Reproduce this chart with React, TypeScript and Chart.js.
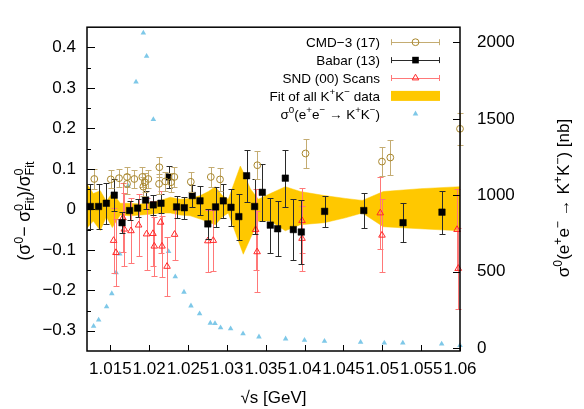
import React, { useEffect, useRef } from 'react';
import { Chart, registerables } from 'chart.js';

Chart.register(...registerables);

const FONT = "'Liberation Sans', Arial, Helvetica, sans-serif";

// ---- axes ----
const X_MIN = 1.012;
const X_MAX = 1.06;
const X_TICKS = [1.015, 1.02, 1.025, 1.03, 1.035, 1.04, 1.045, 1.05, 1.055, 1.06];
const X_TICK_LABELS = ['1.015', '1.02', '1.025', '1.03', '1.035', '1.04', '1.045', '1.05', '1.055', '1.06'];
const Y_MIN = -0.35;
const Y_MAX = 0.45;
const Y_TICKS = [-0.3, -0.2, -0.1, 0, 0.1, 0.2, 0.3, 0.4];
const Y_TICK_LABELS = ['\u22120.3', '\u22120.2', '\u22120.1', '0', '0.1', '0.2', '0.3', '0.4'];
const Y_MINOR_TICKS = [-0.25, -0.15, -0.05, 0.05, 0.15, 0.25, 0.35];
const Y2_MIN = -20;
const Y2_MAX = 2100;
const Y2_TICKS = [0, 500, 1000, 1500, 2000];
const Y2_TICK_LABELS = ['0', '500', '1000', '1500', '2000'];

// ---- CMD-3 (2017) ----
const CMD3_X = [1.01294, 1.01506, 1.01612, 1.01715, 1.01715, 1.01809, 1.01912, 1.01925, 1.01944, 1.01989, 1.02127, 1.02131, 1.02208, 1.02281, 1.02324, 1.02536, 1.02793, 1.02912, 1.03392, 1.04012, 1.04996, 1.05103, 1.06];
const CMD3_Y = [0.075, 0.074, 0.077, 0.080, 0.063, 0.075, 0.080, 0.056, 0.067, 0.075, 0.063, 0.104, 0.069, 0.067, 0.080, 0.068, 0.080, 0.074, 0.109, 0.138, 0.118, 0.128, 0.199];
const CMD3_ERR = [0.024, 0.022, 0.022, 0.024, 0.024, 0.022, 0.024, 0.024, 0.024, 0.022, 0.024, 0.025, 0.024, 0.024, 0.024, 0.024, 0.024, 0.029, 0.035, 0.037, 0.035, 0.043, 0.04];

// ---- Babar (2013) ----
const BABAR_X = [1.01243, 1.01349, 1.01449, 1.01551, 1.01651, 1.01748, 1.01851, 1.01954, 1.02053, 1.02152, 1.0225, 1.02353, 1.02452, 1.02555, 1.02654, 1.02755, 1.02855, 1.02954, 1.03053, 1.03154, 1.03254, 1.03357, 1.03456, 1.03559, 1.03653, 1.03752, 1.03855, 1.03958, 1.04258, 1.04762, 1.05267, 1.05768];
const BABAR_Y = [0.007, 0.007, 0.015, 0.035, -0.033, -0.003, 0.003, 0.023, 0.011, 0.015, 0.080, 0.006, 0.004, 0.034, 0.021, -0.036, 0.006, 0.021, 0.005, -0.018, 0.083, 0.007, 0.042, -0.039, -0.048, 0.077, -0.050, -0.056, -0.005, -0.003, -0.033, -0.007];
const BABAR_ERR = [0.055, 0.055, 0.05, 0.04, 0.026, 0.023, 0.022, 0.022, 0.024, 0.024, 0.028, 0.027, 0.027, 0.027, 0.036, 0.038, 0.05, 0.042, 0.046, 0.057, 0.064, 0.068, 0.07, 0.068, 0.068, 0.07, 0.075, 0.078, 0.039, 0.043, 0.048, 0.053];

// ---- SND (2000) scans ----
const SND_X = [1.01542, 1.01573, 1.01663, 1.0168, 1.01766, 1.01864, 1.01967, 1.02049, 1.02066, 1.02147, 1.02165, 1.0223, 1.02327, 1.02755, 1.02825, 1.0337, 1.03389, 1.03967, 1.03967, 1.04974, 1.04996, 1.05962, 1.05978];
const SND_Y = [-0.077, -0.107, -0.021, -0.049, -0.053, -0.039, -0.061, -0.060, -0.091, -0.032, -0.091, -0.141, -0.062, -0.078, -0.077, -0.050, -0.105, -0.028, -0.072, -0.009, -0.064, -0.050, -0.146];
const SND_ERR = [0.08, 0.082, 0.085, 0.09, 0.08, 0.077, 0.088, 0.08, 0.073, 0.077, 0.075, 0.073, 0.064, 0.077, 0.075, 0.1, 0.1, 0.08, 0.08, 0.09, 0.09, 0.1, 0.1];

// ---- fit uncertainty band ----
const BAND_X = [1.012, 1.01281, 1.01371, 1.01449, 1.01526, 1.01629, 1.01757, 1.01886, 1.02015, 1.02143, 1.02272, 1.02401, 1.02529, 1.02658, 1.02761, 1.02851, 1.02941, 1.03018, 1.03173, 1.03211, 1.03302, 1.03405, 1.03559, 1.03752, 1.03945, 1.04254, 1.04524, 1.04743, 1.05013, 1.05489, 1.06];
const BAND_HI = [0.063, 0.039, 0.046, 0.020, 0.041, 0.015, 0.015, 0.013, 0.017, 0.022, 0.030, 0.025, 0.027, 0.034, 0.044, 0.056, 0.034, 0.025, 0.107, 0.092, 0.051, 0.025, 0.039, 0.056, 0.044, 0.034, 0.027, 0.022, 0.044, 0.051, 0.056];
const BAND_LO = [-0.046, -0.029, -0.052, -0.019, -0.045, -0.014, -0.016, -0.014, -0.012, -0.009, -0.009, -0.014, -0.016, -0.024, -0.031, -0.038, -0.019, -0.009, -0.091, -0.111, -0.072, -0.029, -0.029, -0.053, -0.038, -0.033, -0.021, -0.009, -0.043, -0.048, -0.053];

// ---- bare cross section sigma0(e+e- -> K+K-) [nb] ----
const SIGMA_X = [1.01285, 1.0135, 1.01452, 1.01519, 1.01575, 1.01622, 1.01728, 1.01831, 1.01925, 1.01967, 1.02054, 1.0225, 1.02336, 1.02448, 1.02538, 1.02649, 1.02787, 1.02847, 1.02919, 1.03048, 1.03208, 1.03413, 1.03756, 1.03999, 1.04256, 1.04721, 1.05026, 1.05264, 1.05764, 1.06];
const SIGMA_Y = [142, 184, 270, 356, 493, 616, 1061, 1742, 2062, 1910, 1496, 632, 467, 366, 276, 225, 163, 160, 133, 126, 94, 73, 60, 51, 44, 38, 33, 33, 26, 17];

// ---- colours ----
const CMD3_COLOR = '#a8862c';
const CMD3_BAR = '#c4ac72';
const BABAR_COLOR = '#000000';
const BABAR_BAR = '#2a2a2a';
const SND_COLOR = '#ff2a2a';
const SND_BAR = '#ff7878';
const BAND_COLOR = '#ffc800';
const SIGMA_COLOR = '#7ec8e8';

const pts = (xs: number[], ys: number[]) => xs.map((x, i) => ({ x, y: ys[i] }));

type Seg = { t: string; k?: 'sup' | 'sub'; sub?: string };

function segWidth(ctx: CanvasRenderingContext2D, s: Seg, size: number) {
  if (!s.k) {
    ctx.font = `${size}px ${FONT}`;
    return ctx.measureText(s.t).width;
  }
  ctx.font = `${size * 0.72}px ${FONT}`;
  const w = ctx.measureText(s.t).width;
  return s.sub ? Math.max(w, ctx.measureText(s.sub).width) : w;
}

function drawRich(ctx: CanvasRenderingContext2D, segs: Seg[], x: number, y: number, size: number, align: 'left' | 'right' | 'center', color = '#000') {
  const widths = segs.map((s) => segWidth(ctx, s, size));
  const total = widths.reduce((a, b) => a + b, 0);
  let cx = align === 'left' ? x : align === 'right' ? x - total : x - total / 2;
  ctx.save();
  ctx.fillStyle = color;
  ctx.textAlign = 'left';
  ctx.textBaseline = 'alphabetic';
  segs.forEach((s, i) => {
    if (!s.k) {
      ctx.font = `${size}px ${FONT}`;
      ctx.fillText(s.t, cx, y);
    } else {
      ctx.font = `${size * 0.72}px ${FONT}`;
      if (s.k === 'sup') ctx.fillText(s.t, cx, y - size * 0.42);
      else ctx.fillText(s.t, cx, y + size * 0.22);
      if (s.sub) ctx.fillText(s.sub, cx, y + size * 0.24);
    }
    cx += widths[i];
  });
  ctx.restore();
}

const KK: Seg[] = [{ t: 'K' }, { t: '+', k: 'sup' }, { t: 'K' }, { t: '\u2212', k: 'sup' }];
const SIGMA_LABEL: Seg[] = [{ t: '\u03c3' }, { t: '0', k: 'sup' }, { t: '(e' }, { t: '+', k: 'sup' }, { t: 'e' }, { t: '\u2212', k: 'sup' }, { t: ' \u2192 ' }, ...KK, { t: ')' }];
const FIT_LABEL: Seg[] = [{ t: 'Fit of all ' }, ...KK, { t: ' data' }];
const Y_TITLE: Seg[] = [{ t: '(\u03c3' }, { t: '0', k: 'sup' }, { t: '\u2212 \u03c3' }, { t: '0', k: 'sup', sub: 'Fit' }, { t: ')/\u03c3' }, { t: '0', k: 'sup', sub: 'Fit' }];
const Y2_TITLE: Seg[] = [...SIGMA_LABEL, { t: ' [nb]' }];
const X_TITLE = '\u221as [GeV]';

// error bars are drawn just beneath each dataset's markers
const errorBarPlugin = {
  id: 'errorBars',
  beforeDatasetDraw(chart: any, args: any) {
    const ds = chart.data.datasets[args.index];
    if (!ds.errors) return;
    const xs = chart.scales.x;
    const ys = chart.scales[ds.yAxisID || 'y'];
    const ctx: CanvasRenderingContext2D = chart.ctx;
    const cap = 3;
    ctx.save();
    ctx.strokeStyle = ds.errorColor;
    ctx.lineWidth = 1;
    ds.data.forEach((p: { x: number; y: number }, i: number) => {
      const e = ds.errors[i];
      const px = Math.round(xs.getPixelForValue(p.x)) + 0.5;
      const y1 = Math.round(ys.getPixelForValue(p.y + e)) + 0.5;
      const y2 = Math.round(ys.getPixelForValue(p.y - e)) + 0.5;
      ctx.beginPath();
      ctx.moveTo(px, y1);
      ctx.lineTo(px, y2);
      ctx.moveTo(px - cap, y1);
      ctx.lineTo(px + cap, y1);
      ctx.moveTo(px - cap, y2);
      ctx.lineTo(px + cap, y2);
      ctx.stroke();
    });
    ctx.restore();
  },
};

// gnuplot-like frame with inward tick marks
const framePlugin = {
  id: 'frame',
  afterDatasetsDraw(chart: any) {
    const { ctx, chartArea: a, scales } = chart;
    ctx.save();
    ctx.strokeStyle = '#000';
    ctx.lineWidth = 1;
    ctx.beginPath();
    X_TICKS.forEach((v) => {
      const px = Math.round(scales.x.getPixelForValue(v)) + 0.5;
      ctx.moveTo(px, a.bottom);
      ctx.lineTo(px, a.bottom - 6);
    });
    Y_TICKS.forEach((v) => {
      const py = Math.round(scales.y.getPixelForValue(v)) + 0.5;
      ctx.moveTo(a.left, py);
      ctx.lineTo(a.left + 8, py);
    });
    Y_MINOR_TICKS.forEach((v) => {
      const py = Math.round(scales.y.getPixelForValue(v)) + 0.5;
      ctx.moveTo(a.left, py);
      ctx.lineTo(a.left + 4, py);
    });
    Y2_TICKS.forEach((v) => {
      const py = Math.round(scales.y2.getPixelForValue(v)) + 0.5;
      ctx.moveTo(a.right, py);
      ctx.lineTo(a.right - 7, py);
    });
    ctx.stroke();
    ctx.lineWidth = 1.5;
    ctx.strokeRect(a.left, a.top, a.right - a.left, a.bottom - a.top);
    ctx.restore();
  },
};

const LEGEND_TEXT: Seg[][] = [[{ t: 'CMD\u22123 (17)' }], [{ t: 'Babar (13)' }], [{ t: 'SND (00) Scans' }], FIT_LABEL, SIGMA_LABEL];

function drawMarker(ctx: CanvasRenderingContext2D, kind: string, x: number, y: number) {
  ctx.beginPath();
  if (kind === 'circle') {
    ctx.strokeStyle = CMD3_COLOR;
    ctx.arc(x, y, 3.4, 0, Math.PI * 2);
    ctx.stroke();
  } else if (kind === 'square') {
    ctx.fillStyle = BABAR_COLOR;
    ctx.fillRect(x - 3.3, y - 3.3, 6.6, 6.6);
  } else if (kind === 'tri') {
    ctx.strokeStyle = SND_COLOR;
    ctx.moveTo(x, y - 3.8);
    ctx.lineTo(x + 3.3, y + 1.9);
    ctx.lineTo(x - 3.3, y + 1.9);
    ctx.closePath();
    ctx.stroke();
  } else if (kind === 'blue') {
    ctx.fillStyle = SIGMA_COLOR;
    ctx.moveTo(x, y - 3.2);
    ctx.lineTo(x + 2.8, y + 1.6);
    ctx.lineTo(x - 2.8, y + 1.6);
    ctx.closePath();
    ctx.fill();
  }
}

const legendTitlesPlugin = {
  id: 'legendTitles',
  afterDraw(chart: any) {
    const ctx: CanvasRenderingContext2D = chart.ctx;
    const a = chart.chartArea;
    const textRight = a.right - 80;
    const s0 = a.right - 69;
    const s1 = a.right - 20;
    const mid = (s0 + s1) / 2;
    const size = 13.5;
    const rowH = 17.9;
    const bars = [CMD3_BAR, BABAR_BAR, SND_BAR];
    const marks = ['circle', 'square', 'tri'];
    LEGEND_TEXT.forEach((segs, i) => {
      const yc = a.top + 15 + i * rowH;
      drawRich(ctx, segs, textRight, yc + size * 0.36, size, 'right');
      ctx.save();
      ctx.lineWidth = 1;
      if (i < 3) {
        ctx.strokeStyle = bars[i];
        ctx.beginPath();
        ctx.moveTo(s0, Math.round(yc) + 0.5);
        ctx.lineTo(s1, Math.round(yc) + 0.5);
        ctx.moveTo(s0 + 0.5, yc - 3);
        ctx.lineTo(s0 + 0.5, yc + 3);
        ctx.moveTo(s1 - 0.5, yc - 3);
        ctx.lineTo(s1 - 0.5, yc + 3);
        ctx.stroke();
        drawMarker(ctx, marks[i], mid, yc);
      } else if (i === 3) {
        ctx.fillStyle = BAND_COLOR;
        ctx.fillRect(s0, yc - 5, s1 - s0, 10);
      } else {
        drawMarker(ctx, 'blue', mid, yc);
      }
      ctx.restore();
    });

    // axis titles
    const titleSize = 17;
    ctx.save();
    ctx.fillStyle = '#000';
    ctx.font = `${titleSize}px ${FONT}`;
    ctx.textAlign = 'center';
    ctx.textBaseline = 'middle';
    ctx.fillText(X_TITLE, (a.left + a.right) / 2, 398);
    ctx.restore();

    ctx.save();
    ctx.translate(24, 211);
    ctx.rotate(-Math.PI / 2);
    drawRich(ctx, Y_TITLE, 0, titleSize * 0.36, 17.5, 'center');
    ctx.restore();

    ctx.save();
    ctx.translate(563, 198);
    ctx.rotate(-Math.PI / 2);
    drawRich(ctx, Y2_TITLE, 0, titleSize * 0.36, titleSize, 'center');
    ctx.restore();
  },
};

const tickFont = { family: FONT, size: 17 };

function labelFor(ticks: number[], labels: string[]) {
  return (v: number | string) => {
    const i = ticks.findIndex((t) => Math.abs(t - Number(v)) < 1e-9);
    return i >= 0 ? labels[i] : '';
  };
}

export default function App() {
  const canvasRef = useRef<HTMLCanvasElement>(null);

  useEffect(() => {
    if (!canvasRef.current) return;
    const chart = new Chart(canvasRef.current, {
      type: 'scatter',
      data: {
        datasets: [
          {
            label: 'CMD-3 (17)',
            data: pts(CMD3_X, CMD3_Y),
            errors: CMD3_ERR,
            errorColor: CMD3_BAR,
            pointStyle: 'circle',
            pointRadius: 3.4,
            borderWidth: 1,
            borderColor: CMD3_COLOR,
            backgroundColor: 'rgba(0,0,0,0)',
            order: 1,
            clip: false,
          } as any,
          {
            label: 'Babar (13)',
            data: pts(BABAR_X, BABAR_Y),
            errors: BABAR_ERR,
            errorColor: BABAR_BAR,
            pointStyle: 'rect',
            pointRadius: 4.6,
            borderWidth: 0.5,
            borderColor: BABAR_COLOR,
            backgroundColor: BABAR_COLOR,
            order: 2,
            clip: false,
          } as any,
          {
            label: 'SND (00) Scans',
            data: pts(SND_X, SND_Y),
            errors: SND_ERR,
            errorColor: SND_BAR,
            pointStyle: 'triangle',
            pointRadius: 3.8,
            borderWidth: 1,
            borderColor: SND_COLOR,
            backgroundColor: 'rgba(0,0,0,0)',
            order: 3,
            clip: false,
          } as any,
          {
            label: 'sigma0',
            data: pts(SIGMA_X, SIGMA_Y),
            yAxisID: 'y2',
            pointStyle: 'triangle',
            pointRadius: 3.2,
            borderWidth: 0,
            borderColor: SIGMA_COLOR,
            backgroundColor: SIGMA_COLOR,
            order: 4,
            clip: false,
          } as any,
          {
            type: 'line',
            label: 'Fit of all K+K- data',
            data: pts(BAND_X, BAND_HI),
            showLine: true,
            pointRadius: 0,
            borderWidth: 0.5,
            borderColor: BAND_COLOR,
            backgroundColor: BAND_COLOR,
            tension: 0,
            fill: '+1',
            order: 5,
          } as any,
          {
            type: 'line',
            label: 'band low',
            data: pts(BAND_X, BAND_LO),
            showLine: true,
            pointRadius: 0,
            borderWidth: 0.5,
            borderColor: BAND_COLOR,
            backgroundColor: BAND_COLOR,
            tension: 0,
            fill: false,
            order: 6,
          } as any,
        ],
      },
      options: {
        responsive: false,
        animation: false,
        events: [],
        layout: { padding: { top: 20, left: 0, right: 0, bottom: 0 } },
        plugins: { legend: { display: false }, tooltip: { enabled: false } },
        scales: {
          x: {
            type: 'linear',
            position: 'bottom',
            min: X_MIN,
            max: X_MAX,
            grid: { display: false, drawTicks: false },
            border: { display: false },
            afterBuildTicks: (s: any) => {
              s.ticks = X_TICKS.map((value) => ({ value }));
            },
            afterFit: (s: any) => {
              s.height = 58;
            },
            ticks: {
              autoSkip: false,
              maxRotation: 0,
              minRotation: 0,
              padding: 8,
              color: '#000',
              font: tickFont,
              callback: labelFor(X_TICKS, X_TICK_LABELS),
            },
          },
          y: {
            type: 'linear',
            position: 'left',
            min: Y_MIN,
            max: Y_MAX,
            grid: { display: false, drawTicks: false },
            border: { display: false },
            afterBuildTicks: (s: any) => {
              s.ticks = Y_TICKS.map((value) => ({ value }));
            },
            afterFit: (s: any) => {
              s.width = 87;
            },
            ticks: {
              autoSkip: false,
              padding: 11,
              color: '#000',
              font: tickFont,
              callback: labelFor(Y_TICKS, Y_TICK_LABELS),
            },
          },
          y2: {
            type: 'linear',
            position: 'right',
            min: Y2_MIN,
            max: Y2_MAX,
            grid: { display: false, drawTicks: false },
            border: { display: false },
            afterBuildTicks: (s: any) => {
              s.ticks = Y2_TICKS.map((value) => ({ value }));
            },
            afterFit: (s: any) => {
              s.width = 124;
            },
            ticks: {
              autoSkip: false,
              padding: 17,
              color: '#000',
              font: tickFont,
              callback: labelFor(Y2_TICKS, Y2_TICK_LABELS),
            },
          },
        },
      } as any,
      plugins: [errorBarPlugin, framePlugin, legendTitlesPlugin],
    });
    return () => chart.destroy();
  }, []);

  return (
    <div style={{ position: 'fixed', left: 0, top: 0, width: 584, height: 409, background: '#fff' }}>
      <canvas ref={canvasRef} width={584} height={409} style={{ display: 'block' }} />
    </div>
  );
}
